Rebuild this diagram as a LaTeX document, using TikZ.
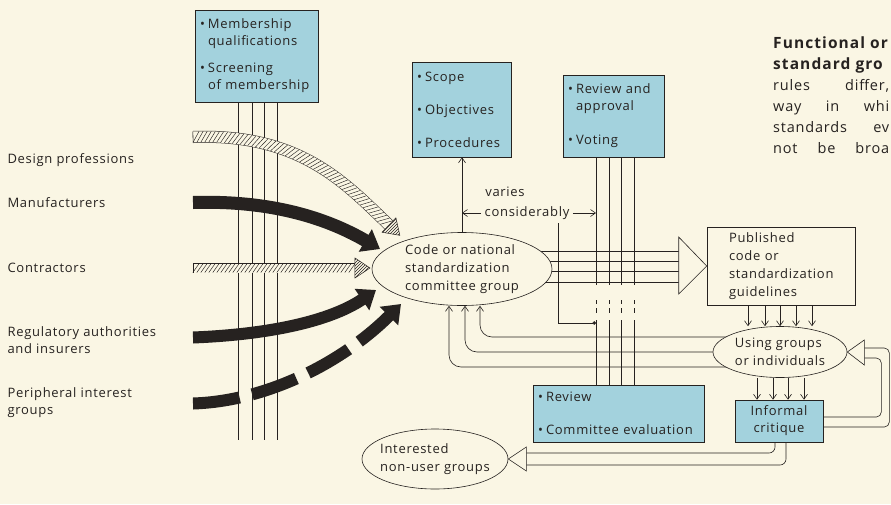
\documentclass[tikz,border=0pt]{standalone}
\usepackage{fontspec}
\setmainfont{Open Sans}[LetterSpace=5.5]
\usetikzlibrary{arrows.meta, positioning, calc, shapes.geometric, decorations.markings, patterns, backgrounds}

\definecolor{paper}{RGB}{250,246,228}
\definecolor{boxblue}{RGB}{163,210,221}
\definecolor{ink}{RGB}{38,34,32}

\newcommand{\bulit}{\makebox[8pt][l]{\textbullet}}
\newcommand{\contind}{\hspace*{8pt}}
\newcommand{\capbold}[1]{{\fontsize{15.5}{21}\selectfont\addfontfeatures{LetterSpace=7}\bfseries #1}}

\begin{document}
\begin{tikzpicture}[x=1pt, y=-1pt, font=\fontsize{13}{17}\selectfont,
  every node/.append style={text=ink},
  bluebox/.style={draw=ink, fill=boxblue, line width=0.6pt, inner sep=5pt, align=left},
  pubbox/.style={draw=ink, fill=paper, line width=0.6pt, inner xsep=22pt, align=left, font=\fontsize{13}{18}\selectfont},
  oval/.style={ellipse, draw=ink, fill=paper, line width=0.6pt, inner sep=-5pt, align=left, font=\fontsize{13}{18}\selectfont},
  group/.style={anchor=west, align=left},
  thinline/.style={draw=ink, line width=0.6pt},
  arr/.style={thinline, -{Straight Barb[length=5pt, width=7pt]}},
  fat/.style={draw=ink, line width=#1, -{Triangle[length=17pt, width=25pt]}},
  hatched/.style n args={3}{draw=paper, line width=#2, preaction={draw=ink, line width=#1},
    postaction={decorate, decoration={markings,
      mark=between positions 3pt and -2pt step 4pt with {\draw[ink, line width=0.45pt] (-3.2pt,-#3) -- (3.2pt,#3);}}},
    postaction={decorate, decoration={markings,
      mark=at position 0 with {\draw[ink, line width=0.6pt] (0pt,-#3) -- (0pt,#3);},
      mark=at position 0.9999 with {\filldraw[fill=paper, draw=ink, line width=0.5pt] (0pt,-10pt) -- (15pt,0pt) -- (0pt,10pt) -- cycle;
        \fill[pattern=north east lines, pattern color=ink] (0pt,-10pt) -- (15pt,0pt) -- (0pt,10pt) -- cycle;}}}}
]
\useasboundingbox (0,0) rectangle (891,504);

% boxes
\node[bluebox, text width=113pt, minimum height=92pt] (member) at (256.5,56) {\bulit Membership\\\contind qualifications\\[10pt]\bulit Screening\\\contind of membership};
\node[bluebox, text width=89pt, minimum height=95pt] (scope) at (461.5,109.5) {\bulit Scope\\[16pt]\bulit Objectives\\[16pt]\bulit Procedures};
\node[bluebox, text width=91pt, minimum height=82pt] (approval) at (613.5,116) {\bulit Review and\\\contind approval\\[17pt]\bulit Voting};
\node[bluebox, text width=161pt, minimum height=57pt] (review) at (618.5,413.5) {\bulit Review\\[16pt]\bulit Committee evaluation};
\node[bluebox, text width=78pt, minimum height=42pt, align=center] (critique) at (779,421) {Informal\\critique};
\node[pubbox, text width=104pt, minimum height=78pt] (pub) at (781,266) {Published\\code or\\standardization\\guidelines};

% ovals
\node[oval, minimum width=180pt, minimum height=73pt] (committee) at (462,269) {Code or national\\standardization\\committee group};
\node[oval, minimum width=134pt, minimum height=51pt] (using) at (780,352) {Using groups\\or individuals};
\node[oval, minimum width=146pt, minimum height=60pt] (nonuser) at (435,459) {Interested\\non-user groups};

% interest groups
\node[group] (design) at (4,160) {Design professions};
\node[group] (makers) at (4,203) {Manufacturers};
\node[group] (contractors) at (4,268) {Contractors};
\node[group] (regulators) at (4,340.5) {Regulatory authorities\\and insurers};
\node[group] (peripheral) at (4,402.5) {Peripheral interest\\groups};

\node[anchor=north west, inner sep=0pt, align=left, font=\fontsize{14.5}{21}\selectfont] (caption) at (773,37)
  {\capbold{Functional or}\\\capbold{standard gro}\\\makebox[116pt][s]{rules differ,}\\\makebox[116pt][s]{way in whi}\\\makebox[116pt][s]{standards ev}\\\makebox[116pt][s]{not be broa}};

\node (varies) at (505,192) {varies};
\node (consid) at (527,213) {considerably};

\coordinate (membfoot) at (257,440);
\coordinate (vl) at ($(approval.south)+(-17.5,0)$);
\coordinate (tap) at (vl |- 0,323);
\coordinate (pubbase) at ($(pub.west)+(-28,0)$);
\coordinate (nubase) at ($(nonuser.east)+(18,0)$);

\begin{scope}[on background layer]
  \fill[paper] (0,0) rectangle (891,504);
  \foreach \dx in {-18.5,-4.5,7.5,20.5}
    \draw[thinline] ($(member.south)+(\dx,0)$) -- ($(member.south |- membfoot)+(\dx,0)$);
  \foreach \dx in {-17.5,-4.5,7.5,20.5}
    \draw[thinline, dash pattern=on 128pt off 15pt on 4pt off 4pt on 5pt off 7pt on 150pt]
      ($(approval.south)+(\dx,0)$) -- ($(approval.south |- review.north)+(\dx,0)$);
  \foreach \dy in {-15,-5,5.5,16}
    \draw[thinline] ($(committee.center |- pubbase)+(0,\dy)$) -- ($(pubbase)+(0,\dy)$);
  \foreach \dy/\dx in {-15/18, 0/3, 15/-13}
    \draw[arr, rounded corners=12pt] ($(using.center)+(0,\dy)$) -| ($(committee.south)+(\dx,0)$);
\end{scope}

% committee links
\draw[arr] (committee.north) -- (committee.north |- scope.south);
\draw[arr] (consid.west) -- (consid.west -| committee.north);
\draw[arr] (consid.east) -- (consid.east -| vl);
\draw[thinline, -{Circle[length=3.5pt]}] ($(consid.south)+(31,0)$) |- (tap);
\draw[thinline, fill=paper] ($(pubbase)+(0,-29)$) -- (pub.west) -- ($(pubbase)+(0,28)$) -- cycle;

\foreach \dx in {-33,-16,-1,15,31}
  \draw[arr] ($(pub.south)+(\dx,0)$) -- ($(pub.south |- using.north)+(\dx,0)$);
\foreach \dx in {-22,-6,9,25}
  \draw[arr] ($(critique.north |- using.south)+(\dx,0)$) -- ($(critique.north)+(\dx,0)$);

% critique back to users
\draw[thinline, rounded corners=5pt] ($(critique.east)+(0,-4)$) -- ++(58,0) -- ++(0,-59) -- ++(-17,0);
\draw[thinline, rounded corners=5pt] ($(critique.east)+(0,6)$) -- ++(66,0) -- ++(0,-79) -- ++(-25,0);
\draw[thinline, fill=paper] (using.east) -- ++(17,-12) -- ++(0,25) -- cycle;

% critique to non-users
\draw[thinline, rounded corners=6pt] ($(critique.south)+(-4,0)$) |- ($(nubase)+(0,-6)$);
\draw[thinline, rounded corners=6pt] ($(critique.south)+(7,0)$) |- ($(nubase)+(0,6)$);
\draw[thinline, fill=paper] (nonuser.east) -- ($(nubase)+(0,-12)$) -- ($(nubase)+(0,12)$) -- cycle;

% flows into the committee
\coordinate (dpStart) at (193,137);
\coordinate (dpEnd) at (389,225);
\coordinate (mfStart) at (193,202.5);
\coordinate (mfTip) at (380,249);
\coordinate (ctStart) at (193,268);
\coordinate (ctEnd) at (355,268);
\coordinate (raStart) at (193,337.5);
\coordinate (raTip) at (376,290);
\coordinate (piStart) at (193,403.5);
\coordinate (piTip) at (401,304);

\draw[hatched={12pt}{11pt}{5.5pt}] (dpStart) .. controls (300,133) and (345,183) .. (dpEnd);
\draw[fat=13pt] (mfStart) .. controls (275,200) and (330,220) .. (mfTip);
\draw[hatched={10pt}{9pt}{4.5pt}] (ctStart) -- (ctEnd);
\draw[fat=12pt] (raStart) .. controls (280,334) and (335,318) .. (raTip);
\draw[fat=12pt, dash pattern=on 47pt off 13pt] (piStart) .. controls (270,401) and (345,360) .. (piTip);
\end{tikzpicture}
\end{document}
